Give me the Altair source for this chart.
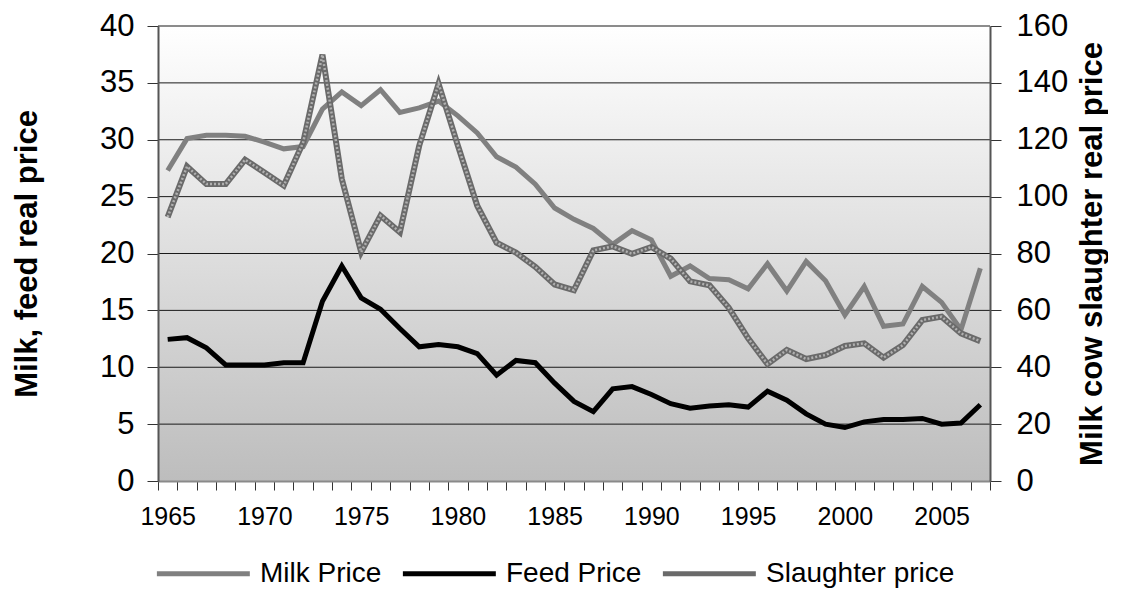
import altair as alt
import pandas as pd

years = list(range(1965, 2008))
milk = [27.3, 30.1, 30.4, 30.4, 30.3, 29.8, 29.2, 29.4, 32.7, 34.2, 33.0, 34.4, 32.4, 32.8,
        33.4, 32.1, 30.6, 28.5, 27.6, 26.1, 24.0, 23.0, 22.2, 20.8, 22.0, 21.2, 18.0, 18.9,
        17.8, 17.7, 16.9, 19.1, 16.7, 19.3, 17.6, 14.6, 17.1, 13.6, 13.8, 17.1, 15.7, 13.3, 18.7]
feed = [12.45, 12.6, 11.7, 10.2, 10.2, 10.2, 10.4, 10.4, 15.8, 18.9, 16.1, 15.1, 13.4, 11.8,
        12.0, 11.8, 11.2, 9.3, 10.6, 10.4, 8.6, 7.0, 6.1, 8.1, 8.3, 7.6, 6.8, 6.4,
        6.6, 6.7, 6.5, 7.9, 7.1, 5.9, 5.0, 4.7, 5.2, 5.4, 5.4, 5.5, 5.0, 5.1, 6.7]
slaughter = [92.8, 110.6, 104.4, 104.4, 113.0, 108.5, 103.9, 119.0, 149.9, 106.2, 80.5, 93.3, 87.5, 117.9,
             139.7, 117.9, 96.8, 83.8, 80.3, 75.3, 69.1, 67.1, 81.1, 82.5, 79.9, 82.3, 78.2, 70.2,
             68.8, 60.9, 50.2, 41.1, 46.1, 42.9, 44.3, 47.5, 48.4, 43.4, 47.8, 56.6, 57.8, 51.9, 49.2]
series_names = ["Milk Price", "Feed Price", "Slaughter price"]
series_colors = ["#808080", "#000000", "#6a6a6a"]
left_ticks = [0, 5, 10, 15, 20, 25, 30, 35, 40]
right_ticks = [0, 20, 40, 60, 80, 100, 120, 140, 160]
grid_values = [5, 10, 15, 20, 25, 30, 35, 40]

W, H = 832, 455
FONT = "Liberation Sans"

left_df = pd.DataFrame({
    "year": years * 2,
    "value": milk + feed,
    "series": ["Milk Price"] * len(years) + ["Feed Price"] * len(years),
})
right_df = pd.DataFrame({"year": years, "value": slaughter, "series": "Slaughter price"})
grid_df = pd.DataFrame({"v": grid_values})

color_scale = alt.Scale(domain=series_names, range=series_colors)
x_scale = alt.Scale(domain=[1964.5, 2007.5], nice=False, zero=False)
half_years = [1964.5 + i for i in range(44)]

x_axis = alt.Axis(
    values=half_years, title=None, grid=False, tickSize=9, tickColor="#333333", tickWidth=1,
    domainColor="#8a8a8a", domainWidth=2, labelFont=FONT, labelFontSize=25, labelColor="black",
    labelExpr="(datum.value + 0.5) % 5 == 0 ? format(datum.value + 0.5, 'd') : ''",
    labelOffset=9.7, labelPadding=14, labelFlush=False, labelOverlap=False, zindex=1,
)

bg = alt.Chart(pd.DataFrame({"a": [0]})).mark_rect(
    color=alt.Gradient(gradient="linear", x1=0, x2=0, y1=0, y2=1,
                       stops=[alt.GradientStop(offset=0, color="#ffffff"),
                              alt.GradientStop(offset=1, color="#bdbdbd")])
).encode(x=alt.value(0), x2=alt.value(W), y=alt.value(0), y2=alt.value(H))

left_axis = alt.Axis(values=left_ticks, title="Milk, feed real price", grid=False,
                     orient="left", tickSize=11, tickColor="#333333",
                     domainColor="#555555", domainWidth=2,
                     labelFont=FONT, labelFontSize=31, labelColor="black", labelPadding=13,
                     titleFont=FONT, titleFontSize=31, titleFontWeight="bold",
                     titleColor="black", titlePadding=56, zindex=1)
left_scale = alt.Scale(domain=[0, 40], nice=False)

grid = alt.Chart(grid_df).mark_rule().encode(
    y=alt.Y("v:Q", scale=left_scale, axis=left_axis),
    color=alt.condition(alt.datum.v == 40, alt.value("#8c8c8c"), alt.value("#1a1a1a")),
    strokeWidth=alt.condition(alt.datum.v == 40, alt.value(2), alt.value(1)),
)

lines_left = alt.Chart(left_df).mark_line(strokeWidth=5).encode(
    x=alt.X("year:Q", scale=x_scale, axis=x_axis),
    y=alt.Y("value:Q", scale=left_scale, axis=left_axis),
    color=alt.Color("series:N", scale=color_scale,
                    legend=alt.Legend(orient="none", legendX=-4, legendY=533, direction="horizontal",
                                      title=None, symbolType="M-1,0H7", symbolSize=540,
                                      symbolStrokeWidth=5, labelOffset=77, columnPadding=10,
                                      labelLimit=400,
                                      labelFont=FONT, labelFontSize=28, labelColor="black")),
    detail="series:N",
)

left = alt.layer(grid, lines_left)

right_axis = alt.Axis(values=right_ticks, title="Milk cow slaughter real price", grid=False,
                      orient="right", tickSize=11, tickColor="#333333",
                      domainColor="#555555", domainWidth=2,
                      labelFont=FONT, labelFontSize=31, labelColor="black", labelPadding=15,
                      titleFont=FONT, titleFontSize=31, titleFontWeight="bold",
                      titleColor="black", titlePadding=10, titleAngle=270, titleBaseline="top",
                      zindex=1)
right_scale = alt.Scale(domain=[0, 160], nice=False)

sl_outer = alt.Chart(right_df).mark_line(strokeWidth=6).encode(
    x=alt.X("year:Q", scale=x_scale, axis=x_axis),
    y=alt.Y("value:Q", scale=right_scale, axis=right_axis),
    color=alt.Color("series:N", scale=color_scale),
)
sl_inner = alt.Chart(right_df).mark_line(strokeWidth=2.5, color="#b0b0b0", strokeDash=[2, 2]).encode(
    x=alt.X("year:Q", scale=x_scale, axis=x_axis),
    y=alt.Y("value:Q", scale=right_scale, axis=right_axis),
)
right = alt.layer(sl_outer, sl_inner)

chart = alt.layer(bg, left, right).resolve_scale(y="independent").properties(
    width=W, height=H, padding={"left": 3, "top": 2, "right": 0, "bottom": 0}
).configure_view(stroke=None).configure(font=FONT)

chart.save("out.html", embed_options={"renderer": "svg", "actions": False})
